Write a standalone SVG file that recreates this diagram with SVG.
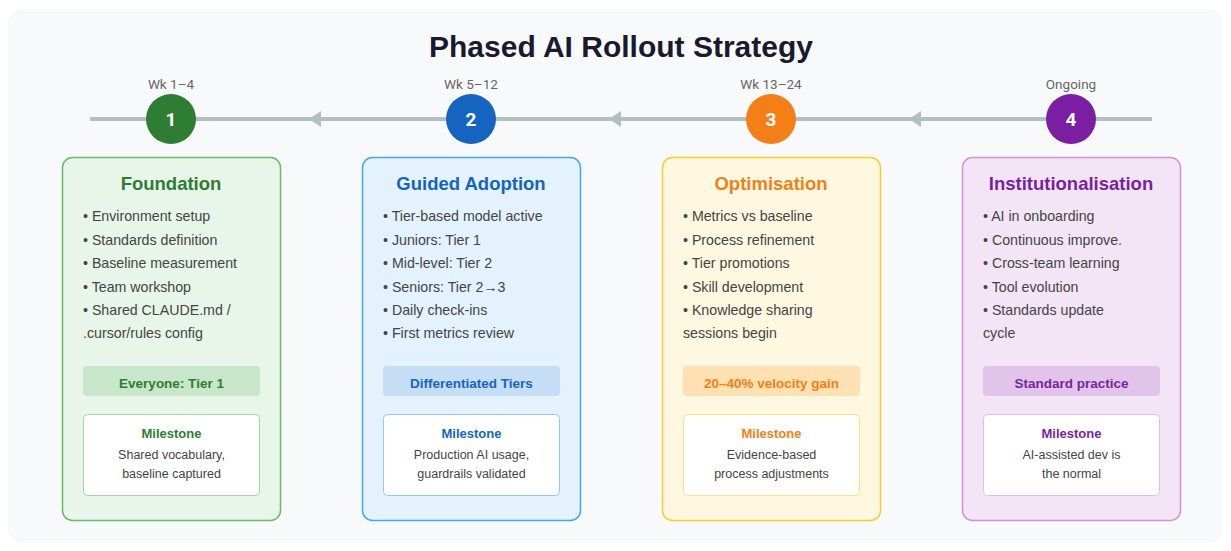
<svg xmlns="http://www.w3.org/2000/svg" width="1231" height="551" viewBox="0 0 1231 551">
<style>
.bg{fill:#f8f9fb}
.title{font-family:"Liberation Sans",Arial,sans-serif;font-size:30px;font-weight:bold;fill:#1a1a2e;text-anchor:middle}
.wk{font-family:Roboto,"Liberation Sans",sans-serif;font-size:13.5px;fill:#666;text-anchor:middle}
.num{font-family:Roboto,"Liberation Sans",sans-serif;font-size:19px;font-weight:bold;fill:#fff;text-anchor:middle}
.ct{font-family:"Liberation Sans",Arial,sans-serif;font-size:18.5px;font-weight:bold;text-anchor:middle}
.b{font-family:"Liberation Sans",Arial,sans-serif;font-size:14.2px;fill:#444}
.badge{font-family:"Liberation Sans",Arial,sans-serif;font-size:13.5px;font-weight:bold;text-anchor:middle}
.ms{font-family:"Liberation Sans",Arial,sans-serif;font-size:13px;font-weight:bold;text-anchor:middle}
.mt{font-family:"Liberation Sans",Arial,sans-serif;font-size:12.5px;fill:#444;text-anchor:middle}
.line{stroke:#b0bec5;stroke-width:4;fill:none}
.ah{fill:#b0bec5}
</style>
<rect class="bg" x="8" y="9" width="1215" height="534" rx="14"/>
<text class="title" x="621" y="57">Phased AI Rollout Strategy</text>
<g id="connectors">
<line class="line" x1="90" y1="119" x2="1152" y2="119"/>
<polygon class="ah" points="309,119 321,111 321,127"/>
<polygon class="ah" points="609,119 621,111 621,127"/>
<polygon class="ah" points="909,119 921,111 921,127"/>
</g>
<g id="step1">
<text class="wk" x="171" y="89">Wk 1–4</text>
<circle cx="171" cy="119" r="25" fill="#2e7d32"/>
<text class="num" x="171" y="126">1</text>
</g>
<g id="step2">
<text class="wk" x="471" y="89">Wk 5–12</text>
<circle cx="471" cy="119" r="25" fill="#1565c0"/>
<text class="num" x="471" y="126">2</text>
</g>
<g id="step3">
<text class="wk" x="771" y="89">Wk 13–24</text>
<circle cx="771" cy="119" r="25" fill="#f57f17"/>
<text class="num" x="771" y="126">3</text>
</g>
<g id="step4">
<text class="wk" x="1071" y="89">Ongoing</text>
<circle cx="1071" cy="119" r="25" fill="#7b1fa2"/>
<text class="num" x="1071" y="126">4</text>
</g>
<g id="card1">
<rect x="62.5" y="157.5" width="218" height="363" rx="10" fill="#e8f5e9" stroke="#66bb6a" stroke-width="1.5"/>
<text class="ct" x="171" y="190" fill="#2e7d32">Foundation</text>
<text class="b" x="83" y="221">• Environment setup</text>
<text class="b" x="83" y="245">• Standards definition</text>
<text class="b" x="83" y="268">• Baseline measurement</text>
<text class="b" x="83" y="292">• Team workshop</text>
<text class="b" x="83" y="315">• Shared CLAUDE.md /</text>
<text class="b" x="83" y="338">.cursor/rules config</text>
<rect x="83" y="366" width="177" height="30" rx="4" fill="#c8e6c9"/>
<text class="badge" x="171.5" y="388" fill="#2e7d32">Everyone: Tier 1</text>
<rect x="83.5" y="414.5" width="176" height="81" rx="4" fill="#fff" stroke="#a5d6a7"/>
<text class="ms" x="171.5" y="438" fill="#2e7d32">Milestone</text>
<text class="mt" x="171.5" y="459">Shared vocabulary,</text>
<text class="mt" x="171.5" y="478">baseline captured</text>
</g>
<g id="card2">
<rect x="362.5" y="157.5" width="218" height="363" rx="10" fill="#e3f2fd" stroke="#42a5f5" stroke-width="1.5"/>
<text class="ct" x="471" y="190" fill="#1565c0">Guided Adoption</text>
<text class="b" x="383" y="221">• Tier-based model active</text>
<text class="b" x="383" y="245">• Juniors: Tier 1</text>
<text class="b" x="383" y="268">• Mid-level: Tier 2</text>
<text class="b" x="383" y="292">• Seniors: Tier 2→3</text>
<text class="b" x="383" y="315">• Daily check-ins</text>
<text class="b" x="383" y="338">• First metrics review</text>
<rect x="383" y="366" width="177" height="30" rx="4" fill="#c5ddf5"/>
<text class="badge" x="471.5" y="388" fill="#1565c0">Differentiated Tiers</text>
<rect x="383.5" y="414.5" width="176" height="81" rx="4" fill="#fff" stroke="#90caf9"/>
<text class="ms" x="471.5" y="438" fill="#1565c0">Milestone</text>
<text class="mt" x="471.5" y="459">Production AI usage,</text>
<text class="mt" x="471.5" y="478">guardrails validated</text>
</g>
<g id="card3">
<rect x="662.5" y="157.5" width="218" height="363" rx="10" fill="#fff8e1" stroke="#ffca28" stroke-width="1.5"/>
<text class="ct" x="771" y="190" fill="#f57f17">Optimisation</text>
<text class="b" x="683" y="221">• Metrics vs baseline</text>
<text class="b" x="683" y="245">• Process refinement</text>
<text class="b" x="683" y="268">• Tier promotions</text>
<text class="b" x="683" y="292">• Skill development</text>
<text class="b" x="683" y="315">• Knowledge sharing</text>
<text class="b" x="683" y="338">sessions begin</text>
<rect x="683" y="366" width="177" height="30" rx="4" fill="#ffe0b2"/>
<text class="badge" x="771.5" y="388" fill="#f57f17">20–40% velocity gain</text>
<rect x="683.5" y="414.5" width="176" height="81" rx="4" fill="#fff" stroke="#ffe082"/>
<text class="ms" x="771.5" y="438" fill="#f57f17">Milestone</text>
<text class="mt" x="771.5" y="459">Evidence-based</text>
<text class="mt" x="771.5" y="478">process adjustments</text>
</g>
<g id="card4">
<rect x="962.5" y="157.5" width="218" height="363" rx="10" fill="#f3e5f5" stroke="#ce93d8" stroke-width="1.5"/>
<text class="ct" x="1071" y="190" fill="#7b1fa2">Institutionalisation</text>
<text class="b" x="983" y="221">• AI in onboarding</text>
<text class="b" x="983" y="245">• Continuous improve.</text>
<text class="b" x="983" y="268">• Cross-team learning</text>
<text class="b" x="983" y="292">• Tool evolution</text>
<text class="b" x="983" y="315">• Standards update</text>
<text class="b" x="983" y="338">cycle</text>
<rect x="983" y="366" width="177" height="30" rx="4" fill="#e1c4e9"/>
<text class="badge" x="1071.5" y="388" fill="#7b1fa2">Standard practice</text>
<rect x="983.5" y="414.5" width="176" height="81" rx="4" fill="#fff" stroke="#e1bee7"/>
<text class="ms" x="1071.5" y="438" fill="#7b1fa2">Milestone</text>
<text class="mt" x="1071.5" y="459">AI-assisted dev is</text>
<text class="mt" x="1071.5" y="478">the normal</text>
</g>
</svg>
